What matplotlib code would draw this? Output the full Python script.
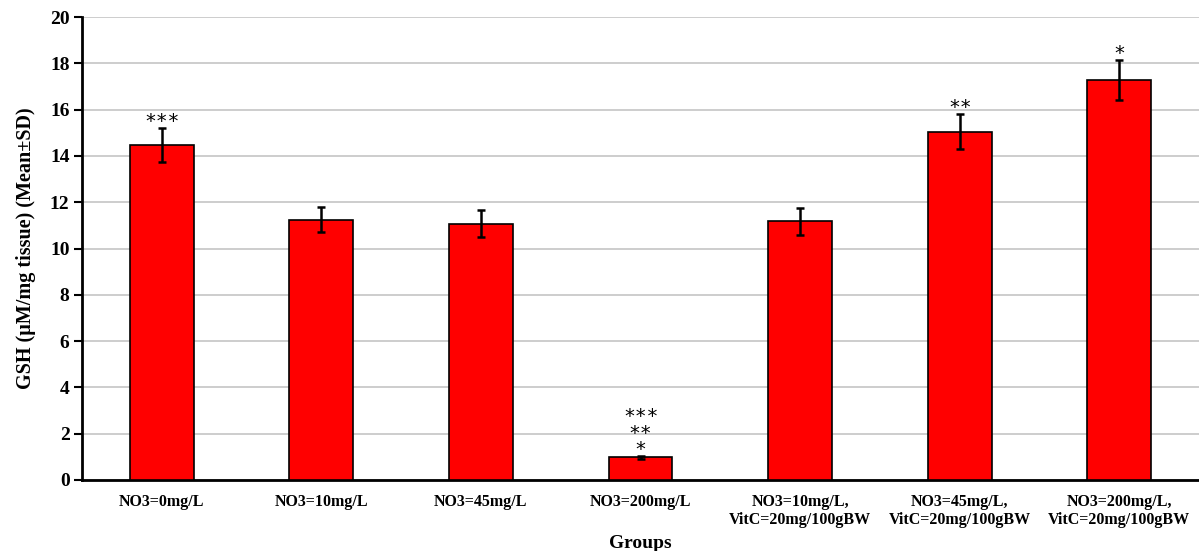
## Imports
import numpy as np
import matplotlib
matplotlib.use("Agg")
import matplotlib.pyplot as plt

## Data: GSH levels per group
groups = ["NO3=0mg/L", "NO3=10mg/L", "NO3=45mg/L", "NO3=200mg/L",
          "NO3=10mg/L,\nVitC=20mg/100gBW", "NO3=45mg/L,\nVitC=20mg/100gBW",
          "NO3=200mg/L,\nVitC=20mg/100gBW"]
means = [14.47, 11.25, 11.08, 0.97, 11.17, 15.05, 17.28]
sds = [0.73, 0.55, 0.58, 0.05, 0.58, 0.76, 0.87]
stars = ["***", "", "", "***\n**\n*", "", "**", "*"]

plt.rcParams['font.family'] = ['Liberation Serif', 'DejaVu Serif']
plt.rcParams['font.weight'] = 'bold'

fig = plt.figure(figsize=(11.99, 5.51), dpi=100)
ax = fig.add_axes([0.0684, 0.129, 0.9316, 0.84])

x = np.arange(len(groups))
ax.bar(x, means, width=0.4, color="#ff0000", edgecolor="black", linewidth=1.2, zorder=3)
ax.errorbar(x, means, yerr=sds, fmt="none", ecolor="black", elinewidth=1.8,
            capsize=3, capthick=1.8, zorder=4)

# significance marks above the error bars
for i in range(len(groups)):
    if stars[i]:
        ax.text(x[i], means[i] + sds[i] - 0.12, stars[i], ha="center", va="bottom",
                multialignment="center", linespacing=0.82,
                fontsize=14, fontweight="normal", family="DejaVu Sans Mono", zorder=5)

ax.set_xlim(-0.5, len(groups) - 0.5)
ax.set_ylim(0, 20)
ax.set_yticks(np.arange(0, 21, 2))
ax.set_xticks(x)
ax.set_xticklabels(groups, fontsize=11.5, fontweight="bold", linespacing=1.2)
ax.tick_params(axis="x", length=0, pad=10)
ax.tick_params(axis="y", labelsize=14, length=6, width=1.5, direction="out", pad=3)
for t in ax.get_yticklabels():
    t.set_fontweight("bold")

ax.grid(True, axis="y", color="#c0c0c0", linewidth=1.1, zorder=0)
ax.spines["top"].set_visible(False)
ax.spines["right"].set_visible(False)
ax.spines["left"].set_linewidth(2)
ax.spines["bottom"].set_linewidth(2)

ax.set_xlabel("Groups", fontsize=14, fontweight="bold", labelpad=5)
ax.set_ylabel("GSH (μM/mg tissue) (Mean±SD)", fontsize=14.5, fontweight="bold", labelpad=10)

plt.savefig("out.png", dpi=100)
